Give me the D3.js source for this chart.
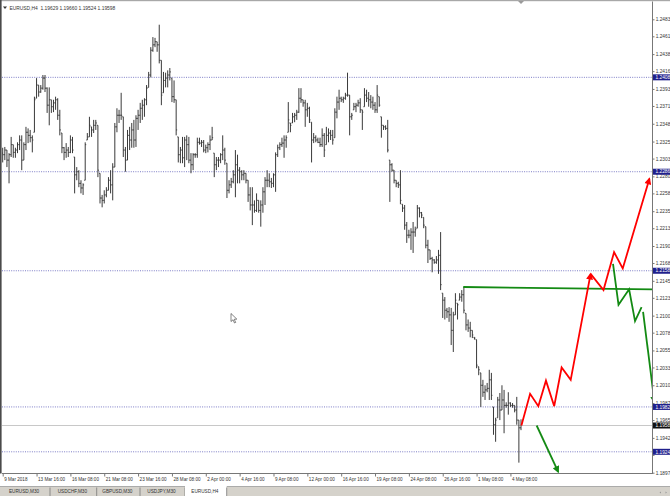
<!DOCTYPE html>
<html><head><meta charset="utf-8">
<script src="https://cdn.jsdelivr.net/npm/d3@7"></script>
<style>html,body{margin:0;padding:0;background:#fff;overflow:hidden}</style>
</head><body><svg id="c" width="670" height="496"></svg>
<script>
// ---------- DATA ----------
const highs=[
1.2317,1.2318,1.2314,1.2310,1.2331,1.2321,1.2317,1.2324,1.2333,1.2333,
1.2324,1.2344,1.2342,1.2340,1.2333,1.2383,1.2407,1.2398,1.2398,1.2411,
1.2411,1.2395,1.2395,1.2379,1.2379,1.2383,1.2381,1.2366,1.2336,1.2318,
1.2323,1.2318,1.2333,1.2331,1.2305,1.2292,1.2288,1.2275,1.2271,1.2324,
1.2336,1.2357,1.2344,1.2353,1.2353,1.2346,1.2284,1.2256,1.2262,1.2266,
1.2279,1.2288,1.2297,1.2349,1.2368,1.2366,1.2388,1.2357,1.2318,1.2340,
1.2344,1.2349,1.2353,1.2359,1.2366,1.2375,1.2379,1.2381,1.2398,1.2415,
1.2447,1.2460,1.2459,1.2454,1.2476,1.2430,1.2415,1.2414,1.2417,1.2420,
1.2407,1.2404,1.2379,1.2331,1.2318,1.2331,1.2331,1.2333,1.2331,1.2310,
1.2310,1.2310,1.2330,1.2330,1.2327,1.2327,1.2321,1.2324,1.2333,1.2344,
1.2310,1.2305,1.2305,1.2310,1.2333,1.2317,1.2297,1.2275,1.2278,1.2288,
1.2314,1.2308,1.2292,1.2288,1.2288,1.2284,1.2275,1.2266,1.2266,1.2249,
1.2258,1.2249,1.2249,1.2266,1.2279,1.2288,1.2284,1.2278,1.2284,1.2311,
1.2321,1.2324,1.2330,1.2333,1.2333,1.2376,1.2349,1.2362,1.2362,1.2366,
1.2394,1.2394,1.2379,1.2379,1.2375,1.2370,1.2350,1.2336,1.2333,1.2330,
1.2330,1.2342,1.2336,1.2344,1.2342,1.2340,1.2340,1.2368,1.2383,1.2392,
1.2383,1.2383,1.2388,1.2414,1.2385,1.2362,1.2375,1.2375,1.2379,1.2381,
1.2366,1.2394,1.2392,1.2389,1.2385,1.2383,1.2376,1.2398,1.2383,1.2357,
1.2346,1.2346,1.2353,1.2301,1.2297,1.2288,1.2275,1.2273,1.2288,1.2244,
1.2243,1.2221,1.2211,1.2213,1.2221,1.2215,1.2243,1.2240,1.2234,1.2227,
1.2215,1.2198,1.2185,1.2176,1.2173,1.2177,1.2185,1.2208,1.2129,1.2124,
1.2110,1.2111,1.2110,1.2105,1.2129,1.2116,1.2129,1.2133,1.2137,1.2103,
1.2095,1.2092,1.2081,1.2072,1.2069,1.2034,1.2026,1.2017,1.2010,1.2013,
1.2030,1.2026,1.1982,1.1968,1.1995,1.2000,1.2010,1.2004,1.1988,1.2001,
1.1988,1.1987,1.1984,1.1995,1.1965,1.1966];
const lows=[
1.2298,1.2301,1.2292,1.2271,1.2305,1.2304,1.2304,1.2310,1.2314,1.2288,
1.2301,1.2314,1.2323,1.2324,1.2311,1.2337,1.2381,1.2383,1.2388,1.2392,
1.2389,1.2362,1.2346,1.2362,1.2363,1.2366,1.2353,1.2333,1.2310,1.2301,
1.2304,1.2305,1.2310,1.2310,1.2258,1.2275,1.2266,1.2258,1.2256,1.2275,
1.2327,1.2331,1.2331,1.2336,1.2340,1.2279,1.2245,1.2240,1.2245,1.2253,
1.2262,1.2258,1.2249,1.2292,1.2337,1.2349,1.2353,1.2305,1.2286,1.2301,
1.2314,1.2317,1.2317,1.2318,1.2340,1.2349,1.2353,1.2357,1.2372,1.2395,
1.2408,1.2441,1.2447,1.2441,1.2426,1.2372,1.2388,1.2395,1.2395,1.2404,
1.2376,1.2375,1.2333,1.2298,1.2297,1.2297,1.2292,1.2301,1.2297,1.2284,
1.2288,1.2304,1.2304,1.2321,1.2318,1.2311,1.2310,1.2311,1.2314,1.2327,
1.2279,1.2288,1.2292,1.2297,1.2301,1.2295,1.2252,1.2258,1.2265,1.2271,
1.2253,1.2271,1.2271,1.2275,1.2275,1.2271,1.2247,1.2236,1.2217,1.2233,
1.2234,1.2233,1.2215,1.2233,1.2243,1.2266,1.2266,1.2265,1.2266,1.2260,
1.2305,1.2314,1.2318,1.2304,1.2317,1.2337,1.2337,1.2349,1.2350,1.2353,
1.2362,1.2375,1.2370,1.2344,1.2357,1.2349,1.2298,1.2323,1.2324,1.2323,
1.2318,1.2318,1.2305,1.2321,1.2324,1.2327,1.2321,1.2330,1.2355,1.2366,
1.2376,1.2375,1.2379,1.2383,1.2333,1.2353,1.2366,1.2363,1.2370,1.2362,
1.2340,1.2370,1.2376,1.2370,1.2368,1.2366,1.2362,1.2362,1.2370,1.2330,
1.2340,1.2340,1.2311,1.2247,1.2286,1.2271,1.2266,1.2265,1.2244,1.2234,
1.2211,1.2194,1.2200,1.2185,1.2181,1.2202,1.2213,1.2227,1.2226,1.2213,
1.2187,1.2168,1.2172,1.2156,1.2167,1.2167,1.2154,1.2133,1.2097,1.2095,
1.2097,1.2092,1.2062,1.2053,1.2101,1.2095,1.2120,1.2118,1.2103,1.2081,
1.2079,1.2072,1.2071,1.2069,1.2032,1.2023,1.1982,1.1995,1.1991,1.2001,
1.1991,1.1991,1.1946,1.1937,1.1968,1.1965,1.1978,1.1948,1.1981,1.1972,
1.1982,1.1981,1.1975,1.1959,1.1910,1.1952];
const closes=[
1.2308,1.2314,1.2301,1.2308,1.2321,1.2311,1.2314,1.2321,1.2327,1.2301,
1.2321,1.2337,1.2333,1.2330,1.2327,1.2379,1.2398,1.2389,1.2394,1.2407,
1.2394,1.2372,1.2379,1.2370,1.2375,1.2379,1.2359,1.2340,1.2317,1.2311,
1.2314,1.2311,1.2327,1.2314,1.2282,1.2286,1.2271,1.2265,1.2269,1.2321,
1.2331,1.2346,1.2340,1.2346,1.2349,1.2288,1.2252,1.2249,1.2256,1.2262,
1.2275,1.2269,1.2292,1.2344,1.2359,1.2359,1.2359,1.2314,1.2301,1.2333,
1.2327,1.2340,1.2327,1.2355,1.2359,1.2368,1.2372,1.2379,1.2394,1.2411,
1.2443,1.2450,1.2454,1.2450,1.2430,1.2385,1.2404,1.2407,1.2411,1.2415,
1.2383,1.2379,1.2340,1.2308,1.2314,1.2304,1.2327,1.2321,1.2301,1.2295,
1.2308,1.2308,1.2324,1.2323,1.2324,1.2314,1.2317,1.2321,1.2327,1.2330,
1.2295,1.2301,1.2301,1.2308,1.2314,1.2301,1.2262,1.2269,1.2273,1.2282,
1.2295,1.2288,1.2286,1.2282,1.2284,1.2275,1.2256,1.2243,1.2243,1.2236,
1.2249,1.2236,1.2243,1.2260,1.2275,1.2275,1.2273,1.2271,1.2282,1.2308,
1.2317,1.2321,1.2323,1.2327,1.2330,1.2353,1.2346,1.2357,1.2359,1.2363,
1.2381,1.2379,1.2375,1.2366,1.2368,1.2353,1.2327,1.2330,1.2327,1.2324,
1.2321,1.2333,1.2314,1.2333,1.2336,1.2333,1.2327,1.2363,1.2376,1.2381,
1.2379,1.2381,1.2385,1.2385,1.2357,1.2359,1.2370,1.2372,1.2375,1.2366,
1.2363,1.2385,1.2381,1.2379,1.2376,1.2372,1.2366,1.2385,1.2372,1.2346,
1.2344,1.2342,1.2314,1.2295,1.2288,1.2275,1.2271,1.2269,1.2249,1.2239,
1.2217,1.2204,1.2204,1.2208,1.2208,1.2211,1.2239,1.2233,1.2230,1.2217,
1.2191,1.2185,1.2174,1.2172,1.2169,1.2172,1.2178,1.2140,1.2120,1.2107,
1.2105,1.2101,1.2081,1.2101,1.2120,1.2114,1.2124,1.2127,1.2107,1.2088,
1.2084,1.2081,1.2075,1.2071,1.2036,1.2030,1.2010,1.2001,1.2004,1.2006,
1.2017,1.1997,1.1959,1.1965,1.1991,1.1978,1.1991,1.1984,1.1984,1.1987,
1.1984,1.1984,1.1978,1.1965,1.1955,1.1960];
const firstOpen=1.2310;
const titleText="EURUSD,H4  1.19629 1.19660 1.19524 1.19598";
const priceTicks=[1.1897,1.1920,1.1942,1.1965,1.1987,1.2010,1.2033,1.2055,1.2078,1.2100,
1.2123,1.2145,1.2168,1.2190,1.2213,1.2235,1.2258,1.2280,1.2303,1.2325,1.2348,1.2371,
1.2393,1.2416,1.2438,1.2461,1.2483];
const timeLabels=["9 Mar 2018","13 Mar 16:00","16 Mar 08:00","21 Mar 08:00","23 Mar 16:00",
"28 Mar 08:00","2 Apr 00:00","4 Apr 16:00","9 Apr 08:00","12 Apr 00:00","16 Apr 16:00",
"19 Apr 08:00","24 Apr 08:00","26 Apr 16:00","1 May 08:00","4 May 08:00"];
const timeLabelBars=[0,16,32,48,64,80,96,112,128,144,160,176,192,208,224,240];
const levels=[1.2408,1.2286,1.2158,1.1982,1.1924];
const bid=1.1958;
const tabs=["EURUSD,M30","USDCHF,M30","GBPUSD,M30","USDJPY,M30","EURUSD,H4"];
const activeTab=4;
// drawn objects: [bar index, price]
const greenLevel=[[217.7,1.2137],[307.4,1.2134]];
const redLeg1=[[245.2,1.1958],[249.3,1.1999],[253.2,1.1983],[256.8,1.2016],[260.7,1.1983],[264.2,1.2033],[268.5,1.2017],[277.9,1.2154]];
const redLeg2=[[277.9,1.2154],[284,1.2133],[289,1.2182],[293.1,1.2161],[305.7,1.2277]];
const greenArrow1=[[252.4,1.1958],[262.6,1.1898]];
const greenZig=[[288.5,1.2167],[291.1,1.2114],[296.1,1.2134],[298.9,1.2093],[302,1.2111]];
const greenArrow2=[[302.7,1.2105],[308.1,1.1988]];

if(highs.length!==lows.length||highs.length!==closes.length)
  throw new Error("len "+highs.length+" "+lows.length+" "+closes.length);

// ---------- LAYOUT ----------
const W=670,H=496;
const L=2,R=652.5,T=1.5,B=473.5;
const svg=d3.select("#c");
const font="'Liberation Sans',Arial,sans-serif";
const x=d3.scaleLinear().domain([0,highs.length-1]).range([2.7,521]);
const y=d3.scaleLinear().domain([1.1897,1.2483]).range([472.7,19.3]);

svg.append("rect").attr("width",W).attr("height",H).attr("fill","#fff");
svg.append("defs").append("clipPath").attr("id","clip").append("rect")
  .attr("x",L).attr("y",T).attr("width",R-L).attr("height",B-T);
const defs=svg.select("defs");
function marker(id,col){
  defs.append("marker").attr("id",id).attr("viewBox","0 0 10 10").attr("refX",8).attr("refY",5)
    .attr("markerUnits","userSpaceOnUse").attr("markerWidth",8).attr("markerHeight",7)
    .attr("orient","auto").append("path").attr("d","M0,0L10,5L0,10z").attr("fill",col);
}
marker("mr","#ff0000"); marker("mg","#138a13");

const plot=svg.append("g").attr("clip-path","url(#clip)");

// level lines
plot.selectAll(".lvl").data(levels).join("line")
  .attr("x1",L).attr("x2",R).attr("y1",d=>y(d)).attr("y2",d=>y(d))
  .attr("stroke","#7d7dc6").attr("stroke-width",1).attr("stroke-dasharray","1,1.3");
// bid line
plot.append("line").attr("x1",L).attr("x2",R).attr("y1",y(bid)).attr("y2",y(bid))
  .attr("stroke","#c8c8c8").attr("stroke-width",1);

// bars
const bars=highs.map((h,i)=>{
  const prev=i===0?firstOpen:closes[i-1];
  const o=Math.max(lows[i],Math.min(h,prev));
  return {i,h,l:lows[i],o,c:closes[i]};
});
plot.selectAll(".bar").data(bars).join("path")
  .attr("d",d=>{const cx=x(d.i);
    return `M${cx},${y(d.h)}V${y(d.l)}M${cx-1},${y(d.o)}H${cx}M${cx},${y(d.c)}H${cx+1}`;})
  .attr("stroke","#3a3a3a").attr("stroke-width",1).attr("fill","none");

// drawn objects
const line=d3.line().x(d=>x(d[0])).y(d=>y(d[1]));
plot.append("path").attr("d",line(greenLevel)).attr("stroke","#138a13").attr("stroke-width",1.8).attr("fill","none");
plot.append("path").attr("d",line(redLeg1)).attr("stroke","#ff0000").attr("stroke-width",1.8).attr("fill","none").attr("marker-end","url(#mr)");
plot.append("path").attr("d",line(redLeg2)).attr("stroke","#ff0000").attr("stroke-width",1.8).attr("fill","none").attr("marker-end","url(#mr)");
plot.append("path").attr("d",line(greenArrow1)).attr("stroke","#138a13").attr("stroke-width",1.8).attr("fill","none").attr("marker-end","url(#mg)");
plot.append("path").attr("d",line(greenZig)).attr("stroke","#138a13").attr("stroke-width",1.8).attr("fill","none");
plot.append("path").attr("d",line(greenArrow2)).attr("stroke","#138a13").attr("stroke-width",1.8).attr("fill","none").attr("marker-end","url(#mg)");

// frame
svg.append("rect").attr("x",0).attr("y",0).attr("width",W).attr("height",1.2).attr("fill","#a8a8a8");
svg.append("rect").attr("x",0).attr("y",0).attr("width",1.6).attr("height",B).attr("fill","#4a4a4a");
svg.append("path").attr("d","M518,1L524,1L521,4Z").attr("fill","#9a9a9a");

// price axis
const ya=d3.axisRight(y).tickValues(priceTicks).tickFormat(d3.format(".4f")).tickSize(2).tickPadding(1.2);
const gy=svg.append("g").attr("transform",`translate(${R},0)`).call(ya);
gy.select(".domain").attr("d",`M0,${T}V${B+0.5}`).attr("stroke","#777");
gy.selectAll(".tick line").attr("stroke","#777");
gy.selectAll(".tick text").attr("font-family",font).attr("font-size",4.8).attr("fill","#333")
  .attr("display",d=>levels.concat([bid]).some(v=>Math.abs(y(v)-y(d))<3.6)?"none":null);

// time axis
const xa=d3.axisBottom(x).tickValues(timeLabelBars).tickFormat((d,i)=>timeLabels[i]).tickSize(3).tickPadding(1);
const gx=svg.append("g").attr("transform",`translate(0,${B})`).call(xa);
gx.select(".domain").attr("d",`M${L},0H${R}`).attr("stroke","#777");
gx.selectAll(".tick line").attr("stroke","#777");
gx.selectAll(".tick text").attr("font-family",font).attr("font-size",4.6).attr("fill","#333")
  .attr("text-anchor","start").attr("dx",1);

// axis labels for levels
function tag(v,bg,txt){
  const g=svg.append("g");
  g.append("rect").attr("x",R+0.5).attr("y",y(v)-3).attr("width",W-R).attr("height",6).attr("fill",bg);
  g.append("text").attr("x",R+3).attr("y",y(v)+1.7).attr("font-family",font).attr("font-size",4.8)
    .attr("fill","#fff").text(txt);
}
levels.forEach(v=>tag(v,"#20208c",d3.format(".4f")(v)));
tag(bid,"#111",d3.format(".4f")(bid));

// title
svg.append("path").attr("d","M3,6.5L7,6.5L5,9Z").attr("fill","#333");
svg.append("text").attr("x",9.5).attr("y",9.6).attr("font-family",font).attr("font-size",4.9)
  .attr("fill","#333").attr("xml:space","preserve").text(titleText);

// mouse cursor
svg.append("path").attr("d","M231,313.5L231,321.5L233,319.8L234.5,323L235.7,322.4L234.2,319.3L236.8,319.1Z")
  .attr("fill","#fff").attr("stroke","#333").attr("stroke-width",0.6);

// tabs
svg.append("rect").attr("x",0).attr("y",486.5).attr("width",W).attr("height",H-486.5).attr("fill","#d5d2cb");
svg.append("line").attr("x1",0).attr("x2",W).attr("y1",486.5).attr("y2",486.5).attr("stroke","#9a9a9a").attr("stroke-width",0.8);
const tabEdges=[0,50,96.7,140,185,226.7];
tabs.forEach((t,i)=>{
  const x0=tabEdges[i],x1=tabEdges[i+1];
  if(i===activeTab){
    svg.append("rect").attr("x",x0).attr("y",486).attr("width",x1-x0).attr("height",H-486).attr("fill","#fff");
  }
  svg.append("line").attr("x1",x1).attr("x2",x1).attr("y1",487.5).attr("y2",496).attr("stroke","#777").attr("stroke-width",0.8);
  svg.append("text").attr("x",(x0+x1)/2-1).attr("y",493.4).attr("text-anchor","middle")
    .attr("font-family",font).attr("font-size",4.7).attr("fill","#333").text(t);
});
svg.append("path").attr("d","M661,491.5L659.5,492.5L661,493.5Z").attr("fill","#999");
svg.append("path").attr("d","M665.5,491.5L667,492.5L665.5,493.5Z").attr("fill","#999");
</script></body></html>
